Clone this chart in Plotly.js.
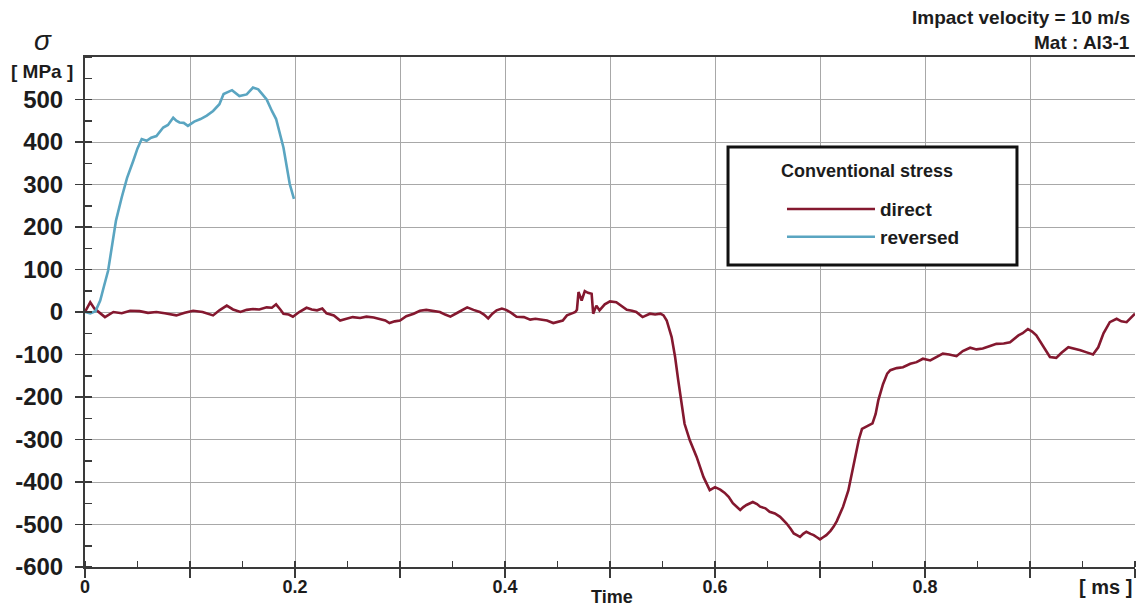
<!DOCTYPE html>
<html>
<head>
<meta charset="utf-8">
<script src="https://cdn.plot.ly/plotly-3.0.1.min.js"></script>
<style>
  html, body { margin: 0; padding: 0; background: #ffffff; }
  #chart { width: 1143px; height: 608px; }
</style>
</head>
<body>
<div id="chart"></div>
<script>
// ---- data (time in ms, stress in MPa) ----
const directTime = [0, 0.005, 0.009, 0.012, 0.019, 0.027, 0.035, 0.043, 0.052, 0.060, 0.068, 0.076, 0.087, 0.095, 0.103, 0.112, 0.122, 0.128, 0.135, 0.141, 0.148, 0.154, 0.16, 0.166, 0.173, 0.178, 0.182, 0.186, 0.189, 0.194, 0.198, 0.204, 0.211, 0.216, 0.221, 0.226, 0.230, 0.237, 0.243, 0.249, 0.255, 0.262, 0.268, 0.275, 0.281, 0.286, 0.29, 0.295, 0.30, 0.306, 0.313, 0.319, 0.325, 0.332, 0.338, 0.343, 0.348, 0.356, 0.364, 0.370, 0.376, 0.380, 0.384, 0.388, 0.392, 0.397, 0.401, 0.406, 0.411, 0.418, 0.424, 0.429, 0.433, 0.440, 0.446, 0.451, 0.455, 0.459, 0.462, 0.465, 0.467, 0.4685, 0.470, 0.473, 0.476, 0.479, 0.4825, 0.4835, 0.484, 0.487, 0.490, 0.495, 0.500, 0.506, 0.511, 0.516, 0.521, 0.525, 0.531, 0.538, 0.543, 0.548, 0.551, 0.554, 0.5587, 0.562, 0.565, 0.568, 0.571, 0.576, 0.5825, 0.589, 0.595, 0.600, 0.605, 0.609, 0.613, 0.617, 0.621, 0.624, 0.627, 0.630, 0.636, 0.640, 0.643, 0.648, 0.652, 0.657, 0.662, 0.668, 0.672, 0.675, 0.678, 0.681, 0.684, 0.687, 0.691, 0.694, 0.697, 0.700, 0.703, 0.706, 0.710, 0.713, 0.716, 0.719, 0.722, 0.727, 0.732, 0.737, 0.740, 0.745, 0.750, 0.753, 0.7555, 0.760, 0.764, 0.767, 0.773, 0.779, 0.786, 0.792, 0.798, 0.805, 0.811, 0.817, 0.823, 0.83, 0.836, 0.843, 0.849, 0.855, 0.862, 0.868, 0.875, 0.881, 0.889, 0.893, 0.898, 0.902, 0.906, 0.912, 0.919, 0.925, 0.930, 0.9365, 0.942, 0.948, 0.954, 0.960, 0.965, 0.970, 0.976, 0.9825, 0.987, 0.992, 0.996, 1.0];
const directStress = [0, 23, 8, 2, -12, 0, -3, 3, 2, -2, 0, -3, -8, -2, 3, 0, -8, 4, 15, 6, 0, 5, 7, 6, 11, 10, 18, 6, -4, -6, -11, 0, 10, 6, 4, 8, -3, -8, -20, -16, -12, -14, -11, -13, -16, -20, -26, -22, -20, -10, -4, 3, 5, 2, 0, -6, -11, 0, 11, 5, 0, -6, -15, -4, 4, 8, 5, -2, -11, -12, -18, -16, -18, -20, -26, -22, -20, -8, -4, -2, 0, 5, 47, 27, 49, 45, 43, 20, -4, 15, 4, 18, 25, 23, 14, 5, 3, 0, -12, -4, -6, -4, -8, -20, -59, -106, -161, -216, -263, -302, -341, -388, -419, -412, -418, -425, -435, -450, -458, -466, -459, -454, -447, -452, -458, -462, -470, -474, -482, -497, -510, -521, -525, -529, -522, -517, -522, -525, -530, -535, -530, -525, -515, -505, -492, -474, -458, -420, -360, -300, -275, -268, -262, -240, -208, -170, -145, -137, -132, -130, -122, -118, -110, -114, -106, -98, -100, -104, -92, -84, -88, -86, -80, -75, -74, -71, -55, -50, -40, -46, -55, -80, -106, -108, -96, -83, -86, -90, -95, -100, -83, -50, -24, -16, -22, -24, -14, -4];

const reversedTime = [0, 0.005, 0.01, 0.0145, 0.018, 0.022, 0.026, 0.0295, 0.035, 0.040, 0.046, 0.050, 0.054, 0.0587, 0.063, 0.068, 0.0745, 0.079, 0.084, 0.087, 0.090, 0.094, 0.098, 0.104, 0.11, 0.116, 0.122, 0.128, 0.132, 0.136, 0.14, 0.147, 0.154, 0.160, 0.165, 0.169, 0.173, 0.178, 0.182, 0.189, 0.195, 0.199];
const reversedStress = [0, -3, 2, 27, 60, 97, 160, 215, 270, 315, 356, 385, 407, 403, 410, 414, 434, 440, 457, 450, 446, 445, 438, 448, 454, 462, 473, 489, 513, 518, 522, 508, 512, 528, 524, 512, 500, 473, 454, 387, 301, 266];

const seriesNames = ["direct", "reversed"];
const legendTitle = "Conventional stress";

const xTickVals = [0, 0.1, 0.2, 0.3, 0.4, 0.5, 0.6, 0.7, 0.8, 0.9, 1.0];
const xTickText = ["0", "", "0.2", "", "0.4", "", "0.6", "", "0.8", "", ""];
const yTickVals = [-600, -500, -400, -300, -200, -100, 0, 100, 200, 300, 400, 500];
const yTickText = ["-600", "-500", "-400", "-300", "-200", "-100", "0", "100", "200", "300", "400", "500"];

const noteLine1 = "Impact velocity = 10 m/s";
const noteLine2 = "Mat : Al3-1";
const yLabelSymbol = "σ";
const yLabelUnit = "[ MPa ]";
const xLabel = "Time";
const xUnit = "[ ms ]";

// ---- styling ----
const FONT = '"Liberation Sans", Arial, sans-serif';
const INK = '#1c1c1c';
const GRID = '#a8a8a8';
const AXIS = '#3a3a3a';

const traces = [
  {
    x: directTime, y: directStress, name: seriesNames[0],
    type: 'scatter', mode: 'lines',
    line: { color: '#84182f', width: 2.6 }
  },
  {
    x: reversedTime, y: reversedStress, name: seriesNames[1],
    type: 'scatter', mode: 'lines',
    line: { color: '#5aa5c1', width: 2.6 }
  }
];

const boldFont = (size) => ({ family: FONT, size: size, color: INK, weight: 'bold' });

const layout = {
  width: 1143, height: 608,
  margin: { l: 85, r: 8, t: 57, b: 41, pad: 0 },
  paper_bgcolor: '#ffffff', plot_bgcolor: '#ffffff',
  font: boldFont(18),
  showlegend: true,
  legend: {
    x: 0.6638, y: 0.7388, xanchor: 'left', yanchor: 'top',
    bgcolor: 'rgba(0,0,0,0)', borderwidth: 0,
    font: boldFont(19),
    itemwidth: 88,
    tracegroupgap: 0
  },
  xaxis: {
    range: [0, 1.0], autorange: false,
    tickmode: 'array', tickvals: xTickVals, ticktext: xTickText,
    ticks: 'outside', ticklen: 9, tickwidth: 1.5, tickcolor: AXIS,
    tickfont: boldFont(18),
    ticklabelstandoff: -7,
    showgrid: true, gridcolor: GRID, gridwidth: 1,
    showline: true, linecolor: AXIS, linewidth: 2, mirror: true,
    zeroline: false,
    minor: { dtick: 0.05, tick0: 0, ticks: 'inside', ticklen: 6, tickwidth: 1.5, tickcolor: AXIS, showgrid: false }
  },
  yaxis: {
    range: [-600, 600], autorange: false,
    tickmode: 'array', tickvals: yTickVals, ticktext: yTickText,
    ticks: 'outside', ticklen: 8, tickwidth: 1.5, tickcolor: AXIS,
    tickfont: boldFont(24),
    ticklabelstandoff: 7,
    showgrid: true, gridcolor: GRID, gridwidth: 1,
    showline: true, linecolor: AXIS, linewidth: 2,
    zeroline: false,
    minor: { dtick: 50, tick0: 0, ticks: 'inside', ticklen: 7, tickwidth: 1.5, tickcolor: AXIS, showgrid: false }
  },
  shapes: [
    // legend frame
    { type: 'rect', xref: 'paper', yref: 'paper', x0: 0.6124, x1: 0.8876, y0: 0.5922, y1: 0.8235,
      line: { color: '#111111', width: 3 }, fillcolor: '#ffffff', layer: 'above' }
  ],
  annotations: [
    { text: legendTitle, xref: 'paper', yref: 'paper', x: 0.7448, y: 0.7765, xanchor: 'center', yanchor: 'middle', showarrow: false,
      font: boldFont(18) },
    { text: noteLine1, xref: 'paper', yref: 'paper', x: 0.997, y: 1.0765, xanchor: 'right', yanchor: 'middle', showarrow: false,
      font: boldFont(19) },
    { text: noteLine2, xref: 'paper', yref: 'paper', x: 0.997, y: 1.0275, xanchor: 'right', yanchor: 'middle', showarrow: false,
      font: boldFont(19) },
    { text: yLabelSymbol, xref: 'paper', yref: 'paper', x: -0.04, y: 1.033, xanchor: 'center', yanchor: 'middle', showarrow: false,
      font: { family: FONT, size: 28, color: INK, style: 'italic', weight: 'normal' } },
    { text: yLabelUnit, xref: 'paper', yref: 'paper', x: -0.0405, y: 0.9706, xanchor: 'center', yanchor: 'middle', showarrow: false,
      font: boldFont(19) },
    { text: xLabel, xref: 'paper', yref: 'paper', x: 0.502, y: -0.0588, xanchor: 'center', yanchor: 'middle', showarrow: false,
      font: boldFont(18) },
    { text: xUnit, xref: 'paper', yref: 'paper', x: 0.999, y: -0.0392, xanchor: 'right', yanchor: 'middle', showarrow: false,
      font: boldFont(20) }
  ]
};

Plotly.newPlot('chart', traces, layout, { displayModeBar: false, staticPlot: true });
</script>
</body>
</html>
